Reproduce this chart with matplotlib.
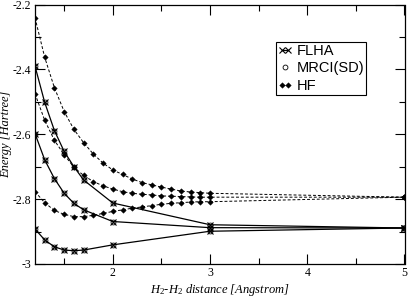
import matplotlib
matplotlib.use("Agg")
import matplotlib.pyplot as plt
from matplotlib.ticker import MultipleLocator, FuncFormatter
from matplotlib.legend_handler import HandlerLine2D

# FLHA / MRCI(SD) grid
X_FLHA = [1.2, 1.3, 1.4, 1.5, 1.6, 1.7, 2.0, 3.0, 5.0]
FLHA_TOP = [-2.390, -2.502, -2.589, -2.653, -2.700, -2.741, -2.812, -2.879, -2.889]
FLHA_MID = [-2.598, -2.679, -2.737, -2.782, -2.813, -2.833, -2.869, -2.888, -2.889]
FLHA_LOW = [-2.892, -2.926, -2.947, -2.957, -2.959, -2.957, -2.941, -2.899, -2.889]

# MRCI(SD) sits right on top of the FLHA points
MRCI_TOP = [-2.390, -2.502, -2.589, -2.653, -2.700, -2.741, -2.812, -2.879, -2.889]
MRCI_MID = [-2.598, -2.679, -2.737, -2.782, -2.813, -2.833, -2.869, -2.888, -2.889]
MRCI_LOW = [-2.892, -2.926, -2.947, -2.957, -2.959, -2.957, -2.941, -2.899, -2.889]

# HF grid
X_HF = [1.2, 1.3, 1.4, 1.5, 1.6, 1.7, 1.8, 1.9, 2.0, 2.1, 2.2, 2.3, 2.4, 2.5,
        2.6, 2.7, 2.8, 2.9, 3.0, 5.0]
HF_TOP = [-2.241, -2.363, -2.457, -2.530, -2.585, -2.626, -2.661, -2.689, -2.710,
          -2.724, -2.738, -2.749, -2.756, -2.763, -2.769, -2.775, -2.778, -2.780,
          -2.782, -2.794]
HF_MID = [-2.475, -2.557, -2.619, -2.663, -2.702, -2.727, -2.746, -2.759, -2.769,
          -2.777, -2.782, -2.785, -2.787, -2.790, -2.791, -2.792, -2.793, -2.794,
          -2.794, -2.794]
HF_LOW = [-2.777, -2.811, -2.835, -2.847, -2.854, -2.854, -2.850, -2.844, -2.838,
          -2.833, -2.828, -2.824, -2.820, -2.816, -2.813, -2.811, -2.809, -2.808,
          -2.808, -2.794]

SERIF = ["Liberation Serif", "DejaVu Serif"]
SANS = ["Liberation Sans", "DejaVu Sans"]

plt.rcParams["mathtext.fontset"] = "custom"
plt.rcParams["mathtext.rm"] = "Liberation Serif"
plt.rcParams["mathtext.it"] = "Liberation Serif:italic"

fig = plt.figure(figsize=(4.09, 3.01), dpi=100)
ax = fig.add_axes([35 / 409, 1 - 264 / 301, 369.5 / 409, 259.5 / 301])

flha_kw = dict(color="black", lw=0.9, marker="x", ms=4, mew=0.8)
hf_kw = dict(color="black", lw=0.7, ls=(0, (3, 2)), marker="D", ms=2.8, mew=0.3)
mrci_kw = dict(color="black", ls="none", marker="o", ms=3.5, mfc="none", mew=0.6)

handles = []
for lab, sets, xs, kw in [("FLHA", [FLHA_TOP, FLHA_MID, FLHA_LOW], X_FLHA, flha_kw),
                          ("MRCI(SD)", [MRCI_TOP, MRCI_MID, MRCI_LOW], X_FLHA, mrci_kw),
                          ("HF", [HF_TOP, HF_MID, HF_LOW], X_HF, hf_kw)]:
    for i, ys in enumerate(sets):
        ln, = ax.plot(xs, ys, **kw)
        if i == 0:
            ln.set_label(lab)
            handles.append(ln)
l_flha, l_mrci, l_hf = handles

ax.set_xlim(1.2, 5)
ax.set_ylim(-3, -2.2)
ax.xaxis.set_major_locator(MultipleLocator(1))
ax.xaxis.set_minor_locator(MultipleLocator(0.5))
ax.yaxis.set_major_locator(MultipleLocator(0.2))
ax.yaxis.set_minor_locator(MultipleLocator(0.1))
ax.yaxis.set_major_formatter(FuncFormatter(lambda v, p: f"{v:g}"))
ax.tick_params(which="both", direction="in", top=True, right=True, width=0.8,
               labelsize=8.5, pad=2.5)
ax.tick_params(which="major", length=7)
ax.tick_params(which="minor", length=4)
for lab in ax.get_xticklabels() + ax.get_yticklabels():
    lab.set_family(SERIF)
for s in ax.spines.values():
    s.set_linewidth(0.9)

ax.set_xlabel(r"H$_2$-H$_2$ distance [Angstrom]", family=SERIF, style="italic",
              fontsize=9)
ax.set_ylabel("Energy [Hartree]", family=SERIF, style="italic", fontsize=9)
ax.xaxis.set_label_coords(0.5, -0.069)
ax.yaxis.set_label_coords(-0.062, 0.5)

leg = ax.legend(handles=handles, loc="upper left",
                bbox_to_anchor=(0.652, 0.857), borderaxespad=0, numpoints=2,
                handlelength=1.0, handletextpad=0.25, labelspacing=0.25,
                borderpad=0.15, fancybox=False, framealpha=1,
                edgecolor="black", prop={"family": SANS, "size": 10.5},
                handler_map={l_mrci: HandlerLine2D(numpoints=1)})
leg.get_frame().set_linewidth(0.8)

fig.savefig("out.png", dpi=100)
